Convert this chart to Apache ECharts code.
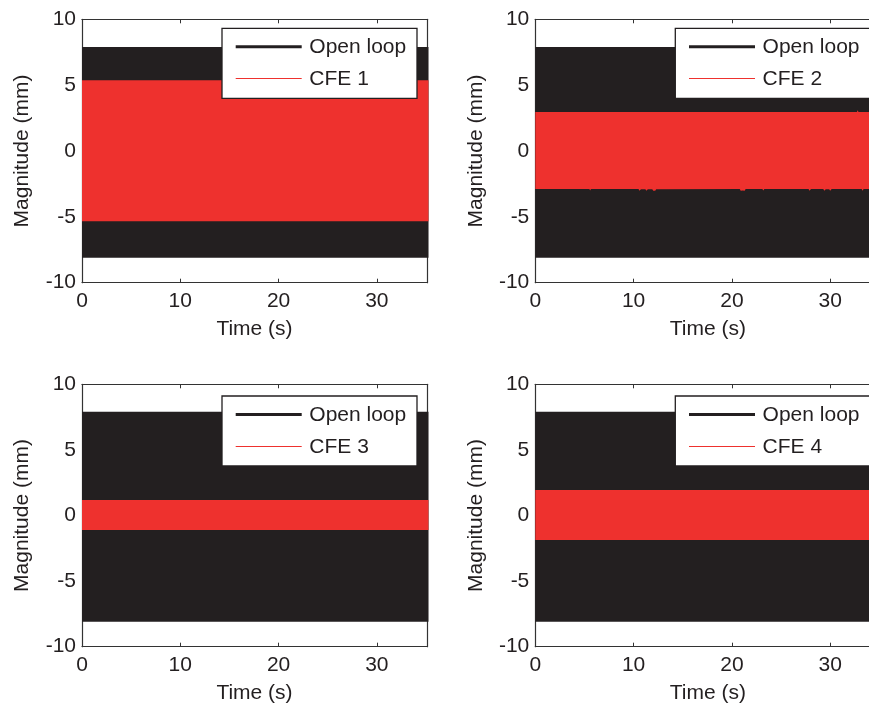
<!DOCTYPE html>
<html>
<head>
<meta charset="utf-8">
<script src="https://cdn.jsdelivr.net/npm/echarts@6/dist/echarts.min.js"></script>
<style>
  html, body { margin: 0; padding: 0; background: #fff; }
  #chart { width: 869px; height: 707px; }
</style>
</head>
<body>
<div id="chart"></div>
<script>
// Envelopes (max / min) of the displacement signals, as [time (s), magnitude (mm)] pairs.
const openLoopUpper = [[0, 7.9], [35.25, 7.9]];
const openLoopLower = [[0, -8.1], [35.25, -8.1]];

const cfe1Upper = [[0, 5.38], [35.25, 5.38]];
const cfe1Lower = [[0, -5.33], [35.25, -5.33]];

const cfe2Upper = [[0, 2.96], [32.72, 2.96], [32.8, 3.1], [32.88, 2.96], [35.25, 2.96]];
const cfe2Lower = [
  [0, -2.89], [5.5, -2.89], [5.58, -3.0], [5.66, -2.89],
  [10.5, -2.89], [10.6, -3.02], [10.75, -2.9], [11.2, -2.9], [11.3, -3.02], [11.45, -2.9],
  [11.9, -2.9], [12.0, -3.02], [12.2, -3.02], [12.3, -2.9],
  [20.8, -2.89], [20.9, -3.02], [21.1, -3.0], [21.3, -3.02], [21.4, -2.89],
  [23.1, -2.89], [23.2, -3.0], [23.3, -2.89],
  [27.8, -2.89], [27.9, -3.02], [28.05, -2.89],
  [29.3, -2.89], [29.4, -3.02], [29.55, -2.9], [29.9, -2.9], [30.0, -3.02], [30.15, -2.89],
  [33.2, -2.89], [33.3, -3.02], [33.4, -2.89], [35.25, -2.89]
];

const cfe3Upper = [[0, 1.18], [35.25, 1.18]];
const cfe3Lower = [[0, -1.1], [35.25, -1.1]];

const cfe4Upper = [[0, 1.94], [35.25, 1.94]];
const cfe4Lower = [[0, -1.87], [35.25, -1.87]];

const seriesNames = ['Open loop', 'CFE 1', 'CFE 2', 'CFE 3', 'CFE 4'];
const xAxisTitle = 'Time (s)';
const yAxisTitle = 'Magnitude (mm)';
const xRange = [0, 35.1];
const yRange = [-10, 10];
const xStep = 10;
const yStep = 5;

// Layout and styling
const FONT = '"Liberation Sans", Arial, Helvetica, sans-serif';
const INK = '#231f20';
const RED = '#ee312e';
const AXIS = '#333333';
const FS = 21;

const layouts = [
  { left: 82,    top: 19.3,  height: 263.4, legendTop: 28.3 },
  { left: 535.3, top: 19.3,  height: 263.4, legendTop: 28.3 },
  { left: 82,    top: 384.3, height: 262.4, legendTop: 396 },
  { left: 535.3, top: 384.3, height: 262.4, legendTop: 396 }
];
const plotWidth = 345;
const cfeEnvelopes = [
  [cfe1Upper, cfe1Lower],
  [cfe2Upper, cfe2Lower],
  [cfe3Upper, cfe3Lower],
  [cfe4Upper, cfe4Lower]
];

function bandRenderer(upper, lower) {
  return function (params, api) {
    const pts = upper.map(p => api.coord(p))
      .concat(lower.slice().reverse().map(p => api.coord(p)));
    return {
      type: 'polygon',
      shape: { points: pts },
      style: { fill: api.visual('color'), stroke: null }
    };
  };
}

const grid = [], xAxis = [], yAxis = [], series = [], graphic = [];

layouts.forEach((L, i) => {
  grid.push({
    left: L.left, top: L.top, width: plotWidth, height: L.height,
    containLabel: false, outerBoundsMode: 'none', show: false
  });

  const tickStyle = { show: true, inside: true, length: 4, lineStyle: { color: AXIS, width: 1 } };
  const lineStyle = { show: true, onZero: false, lineStyle: { color: AXIS, width: 1.2 } };

  // bottom axis with labels, top axis as the box edge
  xAxis.push({
    gridIndex: i, type: 'value', position: 'bottom',
    min: xRange[0], max: xRange[1], interval: xStep,
    axisLine: lineStyle, axisTick: tickStyle, splitLine: { show: false },
    axisLabel: { color: INK, fontFamily: FONT, fontSize: FS, margin: 8, showMaxLabel: false },
    name: xAxisTitle, nameLocation: 'middle', nameGap: 36,
    nameTextStyle: { color: INK, fontFamily: FONT, fontSize: FS }
  });
  xAxis.push({
    gridIndex: i, type: 'value', position: 'top',
    min: xRange[0], max: xRange[1], interval: xStep,
    axisLine: lineStyle, axisTick: tickStyle, splitLine: { show: false },
    axisLabel: { show: false }
  });
  yAxis.push({
    gridIndex: i, type: 'value', position: 'left',
    min: yRange[0], max: yRange[1], interval: yStep,
    axisLine: lineStyle, axisTick: tickStyle, splitLine: { show: false },
    axisLabel: { color: INK, fontFamily: FONT, fontSize: FS, margin: 6 },
    name: yAxisTitle, nameLocation: 'middle', nameGap: 49,
    nameTextStyle: { color: INK, fontFamily: FONT, fontSize: FS }
  });
  yAxis.push({
    gridIndex: i, type: 'value', position: 'right',
    min: yRange[0], max: yRange[1], interval: yStep,
    axisLine: lineStyle, axisTick: tickStyle, splitLine: { show: false },
    axisLabel: { show: false }
  });

  series.push({
    name: seriesNames[0], type: 'custom',
    xAxisIndex: 2 * i, yAxisIndex: 2 * i,
    itemStyle: { color: INK }, clip: false, silent: true,
    data: [[0, 0]],
    renderItem: bandRenderer(openLoopUpper, openLoopLower),
    z: 2
  });
  series.push({
    name: seriesNames[i + 1], type: 'custom',
    xAxisIndex: 2 * i, yAxisIndex: 2 * i,
    itemStyle: { color: RED }, clip: false, silent: true,
    data: [[0, 0]],
    renderItem: bandRenderer(cfeEnvelopes[i][0], cfeEnvelopes[i][1]),
    z: 3
  });

  // legend box
  const bx = L.left + 140, by = L.legendTop, bw = 195, bh = 70;
  const thinY = Math.round(by + 50) + 0.5;
  const textFont = FS + 'px ' + FONT;
  graphic.push(
    { type: 'rect', zlevel: 1, z: 10, shape: { x: bx, y: by, width: bw, height: bh },
      style: { fill: '#fff', stroke: INK, lineWidth: 1.3 } },
    { type: 'line', zlevel: 1, z: 11, shape: { x1: bx + 13.7, y1: by + 18.4, x2: bx + 79.7, y2: by + 18.4 },
      style: { stroke: INK, lineWidth: 3 } },
    { type: 'line', zlevel: 1, z: 11, shape: { x1: bx + 13.7, y1: thinY, x2: bx + 79.7, y2: thinY },
      style: { stroke: RED, lineWidth: 1 } },
    { type: 'text', zlevel: 1, z: 11, x: bx + 87.3, y: by + 19.4,
      style: { text: seriesNames[0], fill: INK, font: textFont, verticalAlign: 'middle' } },
    { type: 'text', zlevel: 1, z: 11, x: bx + 87.3, y: by + 51,
      style: { text: seriesNames[i + 1], fill: INK, font: textFont, verticalAlign: 'middle' } }
  );
});

const chart = echarts.init(document.getElementById('chart'), null, { renderer: 'canvas' });
chart.setOption({
  animation: false,
  backgroundColor: '#ffffff',
  grid, xAxis, yAxis, series, graphic
});
</script>
</body>
</html>
